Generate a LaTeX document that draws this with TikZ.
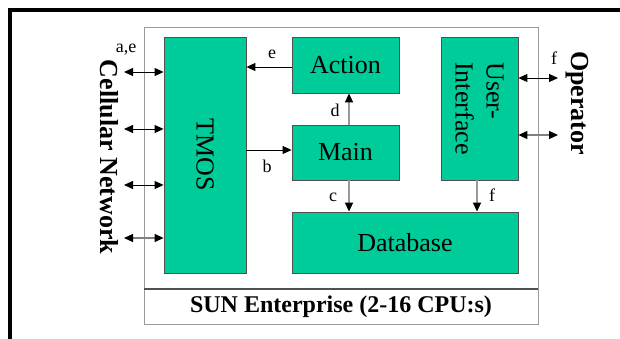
\documentclass[tikz,border=0pt]{standalone}
\usepackage{fontspec}
\setmainfont{Liberation Serif}
\usetikzlibrary{arrows.meta}
\definecolor{boxgreen}{HTML}{00CC99}
\definecolor{boxedge}{HTML}{505050}
\definecolor{lightline}{HTML}{9A9A9A}
\tikzset{
  unit/.style={draw=boxedge, line width=0.8pt, fill=boxgreen, inner sep=0pt,
    font=\fontsize{26}{31}\selectfont},
  lbl/.style={font=\fontsize{18}{20}\selectfont, inner sep=0pt},
  side/.style={font=\fontsize{26}{30}\selectfont\bfseries, rotate=-90, inner sep=0pt},
  tip/.style={-{Triangle[length=9pt,width=8pt,color=black]}},
  dbl/.style={{Triangle[length=9pt,width=8pt,color=black]}-{Triangle[length=9pt,width=8pt,color=black]}},
  dark/.style={draw=black, line width=0.9pt},
  pale/.style={draw=lightline, line width=1.6pt},
  greyish/.style={draw=gray, line width=1.2pt},
}
\begin{document}
\begin{tikzpicture}[x=1pt,y=-1pt]
\useasboundingbox (0,0) rectangle (620,338);
\fill[white] (0,0) rectangle (620,338);
% outer frame, running off the right and bottom edges
\draw[line width=3.5pt] (10,10) rectangle (660,380);
% server enclosure
\draw[draw=lightline, line width=1pt] (144,27) rectangle (538,324);
\draw[draw=boxedge, line width=1.6pt] (144,289) -- (538,289);
\node[font=\fontsize{24}{28}\selectfont\bfseries] (sun) at (341,307) {SUN Enterprise (2-16 CPU:s)};

% software components
\node[unit, minimum width=82pt, minimum height=236pt] (tmos) at (205,155) {};
\node[font=\fontsize{26}{31}\selectfont, rotate=-90] (tmoslabel) at (tmos.center) {TMOS};
\node[unit, minimum width=107pt, minimum height=56pt] (action) at (345.5,65) {Action};
\node[unit, minimum width=107pt, minimum height=55pt] (main) at (345.5,152.5) {Main};
\node[unit, minimum width=77pt, minimum height=143pt] (ui) at (479.5,108.5) {};
\node[font=\fontsize{26}{31}\selectfont, rotate=-90, align=left] (uilabel) at (ui.center) {User-\\Interface};
\node[unit, minimum width=226pt, minimum height=61pt] (db) at (405,242.5) {Database};

% external parties
\node[side] (cell) at (109,157) {Cellular Network};
\node[side] (oper) at (577,103) {Operator};

% links to the cellular network
\coordinate (n1) at (124,72);
\coordinate (n2) at (124,129);
\coordinate (n3) at (124,185);
\coordinate (n4) at (124,238);
\draw[dbl, dark] (n1) -- (n1 -| tmos.west);
\draw[dbl, dark] (n2) -- (n2 -| tmos.west);
\draw[dbl, dark] (n3) -- (n3 -| tmos.west);
\draw[dbl, greyish] (n4) -- (n4 -| tmos.west);
\node[lbl] (lae) at (126,50) {a,e};

% links to the operator
\coordinate (o1) at (558,78);
\coordinate (o2) at (558,135);
\draw[dbl, dark] (o1 -| ui.east) -- (o1);
\draw[dbl, greyish] (o2 -| ui.east) -- (o2);
\node[lbl] (lf2) at (554,58) {f};

% internal flows
\coordinate (ea) at ([yshift=-2pt]action.west);
\draw[tip, dark] (ea) -- (ea -| tmos.east);
\node[lbl] (le) at (272,54) {e};
\coordinate (bm) at ([yshift=2.5pt]main.west);
\draw[tip, dark] (bm -| tmos.east) -- (bm);
\node[lbl] (lb) at (267,166) {b};
\draw[tip, pale] ([xshift=3.5pt]main.north) -- ([xshift=3.5pt]action.south);
\node[lbl] (ld) at (335,110) {d};
\draw[tip, pale] ([xshift=3.5pt]main.south) -- ([xshift=3.5pt]main.south |- db.north);
\node[lbl] (lc) at (333,197) {c};
\draw[tip, pale] ([xshift=-2.5pt]ui.south) -- ([xshift=-2.5pt]ui.south |- db.north);
\node[lbl] (lf) at (492,195) {f};
\end{tikzpicture}
\end{document}
